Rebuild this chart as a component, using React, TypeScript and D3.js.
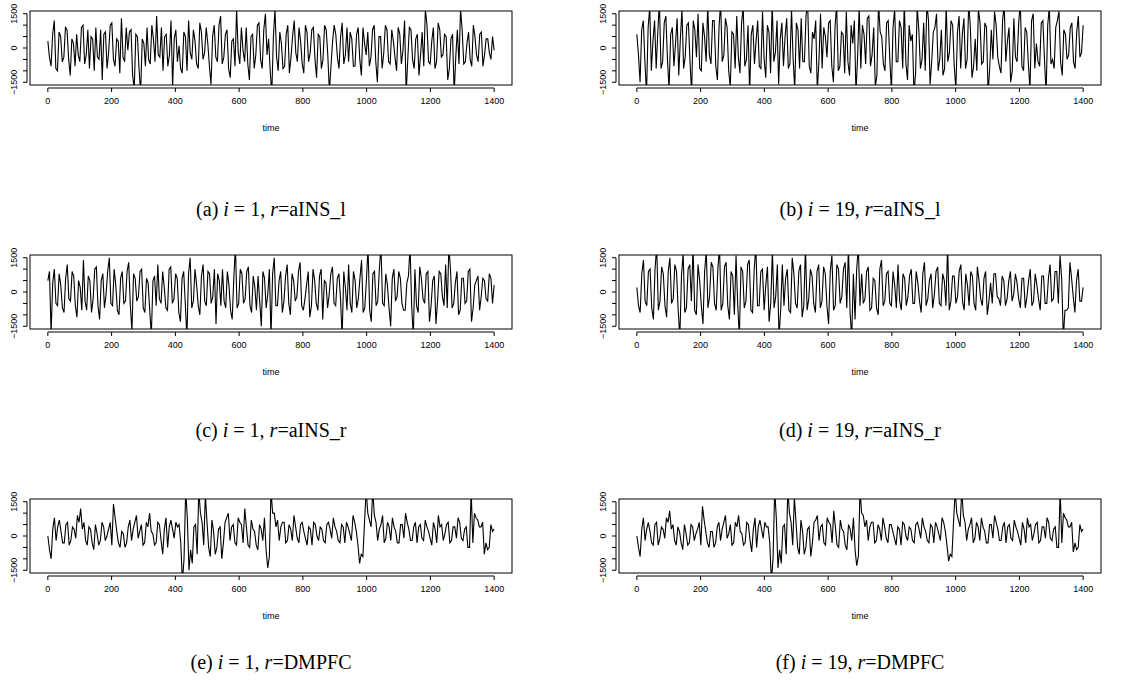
import { useEffect, useRef } from 'react';
import * as d3 from 'd3';

// signal values in hundreds; "even" and "odd" samples interleave, evenly over time 0..1400
const seriesA = [3,-8,12,-10,5,-4,8,-12,2,6,-6,10,-3,-9,4,9,-5,-14,7,-2,11,-8,3,13,-6,-1,8,-18,5,-20,2,9,-7,4,14,-4,-10,6,-3,-17,8,1,-11,5,12,-5,3,-9,7,-2,2,-16,10,-6,14,-4,8,-13,4,17,-7,-1,9,-14,6,-3,11,-9,15,4,-20,17,-10,2,-8,10,-4,12,-6,3,-11,7,-2,9,-13,5,-5,8,-19,3,6,-9,11,-3,-6,4,-8,9,-12,2,7,-4,10,-15,5,-2,8,-7,3,-10,6,-1,-20,9,-5,4,-12,7,17,-6,3,-9,11,-4,6,-14,4,-20,8,17,-7,2,-5,10,-3,6,-8,4,-2,5,-1];
const seriesA2 = [-4,6,-9,7,-6,9,-5,4,-8,-3,9,-7,8,5,-10,-4,8,6,-9,10,-5,4,-11,-4,9,7,-12,6,-9,4,-8,-5,10,-6,-3,9,5,-8,12,4,-6,-9,7,-10,-2,8,-7,11,-5,9,-8,5,-4,10,-7,6,-9,3,-8,-2,9,-6,-7,5,-9,10,-5,8,-3,-10,5,-4,7,-9,6,-11,5,-2,9,-7,10,-6,8,-5,6,-9,10,-3,-8,10,-4,5,-7,9,7,-8,6,-5,9,-3,-8,8,-6,5,-9,10,-6,8,-4,9,-7,12,-5,8,-9,6,-3,-8,10,-7,9,-6,8,-3,5,-9,6,-4,-7,8,-6,7,-8,5,-6,7,-3,4,-5];
const seriesB = [6,-15,12,-20,18,3,-9,20,-6,14,-18,9,2,-12,17,-4,11,-20,8,15,-10,5,19,-7,12,-14,20,-3,9,-17,6,14,-11,18,-5,-20,10,3,-8,16,-13,7,20,-2,-16,11,5,-9,17,-18,8,13,-6,20,-11,4,-19,15,9,-4,12,-15,19,-8,6,16,-12,2,-20,18,10,-7,14,-3,-17,20,5,-10,12,-19,17,-6,9,20,-14,3,-20,18,-9,11,20,-16,7,15,-5,-12,19,-2,10,-18,14,6,-9,20,-13,4,17,-7,11,-20,8,16,-4,-11,19,3,-15,13,-6,20,-10,7,-18,15,2,-8,12,-20,18,-5,9,16,-12,6,-3,11,-9,14,-2,10];
const seriesB2 = [-3,8,-6,9,-10,12,7,-9,11,-5,6,-8,13,4,-9,10,-6,12,-4,-9,11,-6,-3,12,-8,9,-6,13,-10,7,-9,-4,11,-8,10,6,-7,12,-9,-5,10,-11,-6,12,4,-8,13,-7,-5,11,-9,-6,14,-8,7,12,-6,-9,5,11,-8,9,-10,7,-11,-6,10,12,-4,-9,6,13,-8,9,-12,7,-7,11,-5,9,-6,12,-9,-7,10,6,-11,8,-5,-10,12,-6,9,-10,8,-9,-6,12,-8,7,-9,13,-5,9,-8,-10,11,-6,9,-9,-5,10,-8,12,-6,9,-10,-4,11,-8,9,-7,12,-9,-6,11,-5,10,-7,-9,12,-6,8,-5,9,-6,7,-4];
const seriesC = [5,-18,10,-6,3,-9,12,-4,7,-11,2,14,-8,5,-3,11,-12,8,-1,15,-6,3,-10,9,-4,13,-17,6,-2,10,-9,4,-19,7,12,-5,2,-8,11,-3,6,-13,9,-20,15,-4,3,-10,12,-6,8,-2,-14,5,10,-7,3,-12,20,-5,8,-3,11,-9,2,7,-15,6,-1,-20,15,-6,9,-4,12,-10,5,-2,13,-8,3,-11,10,-5,7,-12,4,-1,11,-6,8,-20,2,12,-9,5,-3,14,-7,20,-13,9,-4,20,-6,3,-15,10,-2,6,-8,4,20,-20,-6,11,-3,8,-13,5,-14,9,-2,12,20,-7,4,-10,6,-5,9,-13,3,7,-2,5,-4,6,3];
const seriesC2 = [9,4,-5,8,-7,6,-3,9,-6,5,-8,-4,7,-9,10,-6,5,-7,9,-5,10,-8,6,-5,9,-6,8,-4,9,-7,6,-8,5,-6,-3,9,-7,10,-5,8,-9,6,-5,8,-7,10,-6,7,-4,9,-5,10,8,-6,-4,9,-8,6,-7,10,-5,9,-6,7,-8,-4,9,-7,10,8,-6,5,-9,7,-5,8,-4,9,-6,-3,9,-6,5,-8,10,5,-7,8,-5,6,-3,9,-8,-5,9,-7,6,-9,5,-8,8,-6,10,-5,8,-7,6,-4,9,-5,-8,7,-6,10,-9,6,-5,9,-6,7,-4,8,-6,-7,10,-5,9,-8,6,-4,10,-7,5,-8,6,-3,8,-5,4,-3];
const seriesD = [2,-9,14,-6,10,-12,20,-4,8,-11,15,-3,9,-20,17,-7,12,20,-10,5,-14,18,-2,11,-8,20,-5,13,-12,7,16,-20,9,-4,14,-9,20,-6,10,3,-13,18,-2,-20,12,6,-8,15,-5,9,-11,20,-3,7,-9,12,-4,8,-14,16,-6,10,-2,13,20,-20,-12,20,8,-3,11,-7,5,-10,14,-4,9,-6,3,12,-8,6,-2,10,-5,4,-9,13,-3,8,-1,11,-6,5,20,-4,7,-2,12,-8,3,9,-5,11,-3,6,-10,4,8,-2,-6,5,-3,9,-1,4,-7,6,-2,10,-4,3,-8,7,-5,12,-3,9,16,-20,-8,13,-2,5,-4,2];
const seriesD2 = [-6,8,-4,9,-7,10,-8,11,-6,9,-5,12,-8,7,-9,10,-4,-8,12,-6,9,-7,13,-5,10,-8,11,-6,9,-10,-5,11,-7,12,-8,10,-6,9,-8,11,-5,-7,12,-8,-6,10,-9,8,-7,12,-6,-8,10,-5,9,-7,11,-6,9,-8,12,-5,10,-7,-9,8,10,-6,-5,9,-8,6,-7,10,-6,8,-5,9,-7,-4,8,-6,7,-5,9,-4,8,-6,5,-7,9,-5,8,-6,-8,7,-5,9,-4,8,-6,7,-8,5,-6,9,-4,-5,8,-3,7,-6,5,-4,8,-3,6,-7,5,-6,8,-3,7,-5,6,-4,9,-5,6,-8,-7,6,-9,10,-4,6,-3,5];
const seriesE = [0,-10,8,4,2,-3,6,-2,3,9,12,6,-4,3,-6,1,-2,4,0,6,14,2,-5,1,-3,7,3,9,2,-4,6,10,1,-3,5,-8,8,4,3,6,5,-20,20,-15,-12,5,20,6,18,-5,7,-8,3,-10,6,10,4,-3,8,5,12,-4,7,2,-6,3,8,-14,20,10,7,4,6,-2,3,9,-1,5,2,-4,3,6,0,4,-2,5,3,8,2,-3,4,6,1,9,2,-12,-9,20,7,20,6,3,9,-1,4,8,2,-3,5,10,3,-2,6,4,-1,7,2,-4,3,9,5,1,6,-2,4,8,-1,3,-5,20,10,7,4,-8,-6,5,3];
const seriesE2 = [-6,3,-2,7,-3,5,-4,4,-1,6,3,-2,4,-3,5,-4,6,-2,3,-4,8,-3,2,-5,4,-2,6,-1,5,-3,4,2,-4,6,-2,3,-5,7,-1,4,-3,-10,8,-6,4,-8,10,-4,6,-9,2,-5,4,-3,8,-2,5,-4,6,-3,4,-5,3,-4,5,-2,-6,-9,10,4,-2,6,-3,5,-2,4,-3,6,-1,4,-4,5,-2,3,-3,6,-1,4,-2,5,-3,4,-2,6,-4,-8,6,10,4,9,-2,5,-3,6,-2,4,-3,5,-1,6,-2,4,-3,5,-2,4,-1,6,-3,4,-2,5,-3,4,-1,6,-2,4,-5,-3,8,4,6,-3,-5,2,-2];
const seriesF = [0,-9,8,3,2,-4,6,-1,3,8,11,5,-4,2,-6,1,-3,4,1,6,13,2,-5,2,-3,6,3,9,1,-4,6,9,1,-3,5,-7,8,4,3,6,4,-20,20,-14,-12,5,20,6,17,-5,7,-8,3,-9,6,9,4,-3,8,5,11,-4,7,2,-6,3,8,-13,20,9,7,4,6,-2,3,8,-1,5,2,-4,3,6,0,4,-2,5,3,8,2,-3,4,6,1,8,2,-11,-9,20,7,20,6,3,8,-1,4,8,2,-3,5,9,3,-2,6,4,-1,7,2,-4,3,8,5,1,6,-2,4,8,-1,3,-5,20,10,7,4,-7,-6,5,3];
const seriesF2 = [-5,3,-2,6,-3,5,-4,4,-1,6,3,-2,4,-3,5,-4,5,-2,3,-4,7,-3,2,-5,4,-2,6,-1,5,-3,4,2,-4,6,-2,3,-5,7,-1,4,-3,-10,8,-6,4,-8,10,-4,6,-8,2,-5,4,-3,7,-2,5,-4,6,-3,4,-5,3,-4,5,-2,-6,-9,10,4,-2,6,-3,5,-2,4,-3,5,-1,4,-4,5,-2,3,-3,6,-1,4,-2,5,-3,4,-2,6,-4,-8,6,10,4,9,-2,5,-3,6,-2,4,-3,5,-1,6,-2,4,-3,5,-2,4,-1,6,-3,4,-2,5,-3,4,-1,6,-2,4,-5,-3,8,4,6,-3,-5,2,-2];

const xTicks = [0, 200, 400, 600, 800, 1000, 1200, 1400];
const yTicks = [-1500, -1000, -500, 0, 500, 1000, 1500];
const yLabels = [-1500, 0, 1500];

const panels = [
  { tag: '(a)', i: '1', r: 'aINS_l', even: seriesA, odd: seriesA2 },
  { tag: '(b)', i: '19', r: 'aINS_l', even: seriesB, odd: seriesB2 },
  { tag: '(c)', i: '1', r: 'aINS_r', even: seriesC, odd: seriesC2 },
  { tag: '(d)', i: '19', r: 'aINS_r', even: seriesD, odd: seriesD2 },
  { tag: '(e)', i: '1', r: 'DMPFC', even: seriesE, odd: seriesE2 },
  { tag: '(f)', i: '19', r: 'DMPFC', even: seriesF, odd: seriesF2 },
];

function interleave(a: number[], b: number[]) {
  const out: number[] = [];
  a.forEach((v, j) => { out.push(v); if (j < b.length && j < a.length - 1) out.push(b[j]); });
  return out;
}

export default function App() {
  const svgRef = useRef<SVGSVGElement>(null);

  useEffect(() => {
    const svg = d3.select(svgRef.current);
    svg.selectAll('*').remove();
    svg.append('rect').attr('width', 1122).attr('height', 688).attr('fill', '#fff');

    const boxW = 482, boxH = 74;
    const rowTop = [11, 255, 499];
    const capY = [216, 437, 669];
    const colLeft = [30, 619];
    const font = 'Liberation Sans, Arial';

    panels.forEach((p, k) => {
      const row = Math.floor(k / 2), col = k % 2;
      const g = svg.append('g').attr('transform', `translate(${colLeft[col]},${rowTop[row]})`);
      const x = d3.scaleLinear().domain([-56, 1456]).range([0, boxW]);
      const y = d3.scaleLinear().domain([-1620, 1620]).range([boxH, 0]);

      const cid = `clip${k}`;
      g.append('clipPath').attr('id', cid).append('rect').attr('width', boxW).attr('height', boxH);
      const data = interleave(p.even, p.odd);
      const n = data.length;
      const line = d3.line<number>()
        .x((_, j) => x((j * 1400) / (n - 1)))
        .y(d => y(d * 100));
      g.append('path').attr('d', line(data)!).attr('fill', 'none')
        .attr('stroke', '#000').attr('stroke-width', 1.1).attr('clip-path', `url(#${cid})`);

      g.append('rect').attr('width', boxW).attr('height', boxH)
        .attr('fill', 'none').attr('stroke', '#000').attr('stroke-width', 1);

      // x axis
      const xa = g.append('g').attr('transform', `translate(0,${boxH + 3})`);
      xa.append('line').attr('x1', x(0)).attr('x2', x(1400)).attr('stroke', '#000');
      xTicks.forEach(t => {
        xa.append('line').attr('x1', x(t)).attr('x2', x(t)).attr('y2', 4).attr('stroke', '#000');
        xa.append('text').attr('x', x(t)).attr('y', 16).attr('text-anchor', 'middle')
          .attr('font-size', 9).attr('font-family', font).text(t);
      });
      g.append('text').attr('x', boxW / 2).attr('y', boxH + 46).attr('text-anchor', 'middle')
        .attr('font-size', 9).attr('font-family', font).text('time');

      // y axis
      const ya = g.append('g').attr('transform', 'translate(-3,0)');
      ya.append('line').attr('y1', y(-1500)).attr('y2', y(1500)).attr('stroke', '#000');
      yTicks.forEach(t => {
        ya.append('line').attr('y1', y(t)).attr('y2', y(t)).attr('x2', -4).attr('stroke', '#000');
      });
      yLabels.forEach(t => {
        ya.append('text').attr('transform', `translate(-10,${y(t)}) rotate(-90)`)
          .attr('text-anchor', 'middle').attr('font-size', 9)
          .attr('font-family', font).text(t === -1500 ? '\u22121500' : t);
      });

      // caption
      const cap = svg.append('text')
        .attr('x', colLeft[col] + boxW / 2).attr('y', capY[row])
        .attr('text-anchor', 'middle').attr('font-size', 20)
        .attr('font-family', 'Liberation Serif, serif');
      cap.append('tspan').text(`${p.tag} `);
      cap.append('tspan').attr('font-style', 'italic').text('i');
      cap.append('tspan').text(` = ${p.i}, `);
      cap.append('tspan').attr('font-style', 'italic').text('r');
      cap.append('tspan').text(`=${p.r}`);
    });
  }, []);

  return (
    <svg ref={svgRef} width={1122} height={688}
      style={{ position: 'absolute', left: 0, top: 0 }} />
  );
}
